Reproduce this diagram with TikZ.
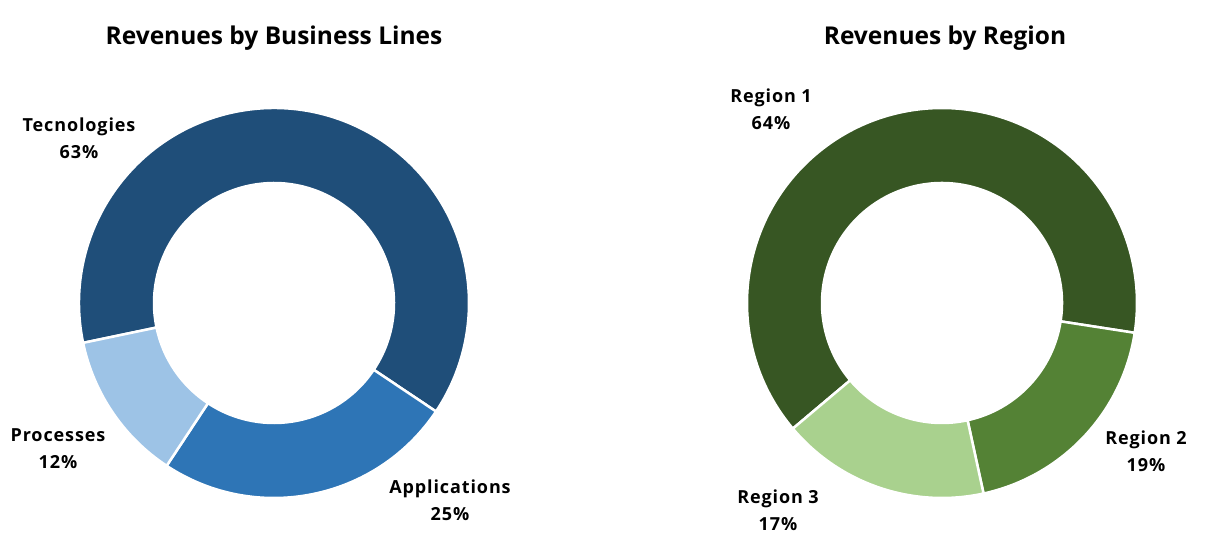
\documentclass[tikz,border=0pt]{standalone}
\usepackage{fontspec}
\setmainfont{Open Sans}
\newfontfamily\lblfont[LetterSpace=5]{Open Sans}
\definecolor{bA}{HTML}{1F4E79}
\definecolor{bB}{HTML}{2E75B6}
\definecolor{bC}{HTML}{9DC3E6}
\definecolor{gA}{HTML}{375623}
\definecolor{gB}{HTML}{548235}
\definecolor{gC}{HTML}{A9D18E}
\tikzset{
  slice/.style={draw=white,line width=2.5pt,line join=miter},
  ttl/.style={font=\bfseries\fontsize{24.5}{28}\selectfont,inner sep=0pt},
  lbl/.style={font=\lblfont\bfseries\fontsize{18}{27}\selectfont,align=center,inner sep=0pt}
}
\newcommand{\ringslice}[5]{% center, start, end, color, name
  \path[slice,fill=#4,shift={(#1)}] (#2:195) arc[start angle=#2,end angle=#3,radius=195]
    -- (#3:120) arc[start angle=#3,end angle=#2,radius=120] -- cycle;}
\begin{document}
\begin{tikzpicture}[x=1pt,y=1pt]
\useasboundingbox (0,0) rectangle (1205,555);
\coordinate (cl) at (274,252);
\coordinate (cr) at (942,252);
% left donut
\ringslice{cl}{191.8}{-33.8}{bA}{t}
\ringslice{cl}{-33.8}{-123.4}{bB}{a}
\ringslice{cl}{-123.4}{-168.2}{bC}{p}
% right donut
\ringslice{cr}{220.1}{-8.8}{gA}{r1}
\ringslice{cr}{-8.8}{-77.7}{gB}{r2}
\ringslice{cr}{-77.7}{-139.9}{gC}{r3}
% titles
\node[ttl] (t1) at (274,517) {Revenues by Business Lines};
\node[ttl] (t2) at (945,517) {Revenues by Region};
% labels
\node[lbl] (l1) at (79,417) {Tecnologies\\63\%};
\node[lbl] (l2) at (58,106) {Processes\\12\%};
\node[lbl] (l3) at (450,55) {Applications\\25\%};
\node[lbl] (l4) at (771,446) {Region 1\\64\%};
\node[lbl] (l5) at (1146,104) {Region 2\\19\%};
\node[lbl] (l6) at (778,45) {Region 3\\17\%};
\end{tikzpicture}
\end{document}
